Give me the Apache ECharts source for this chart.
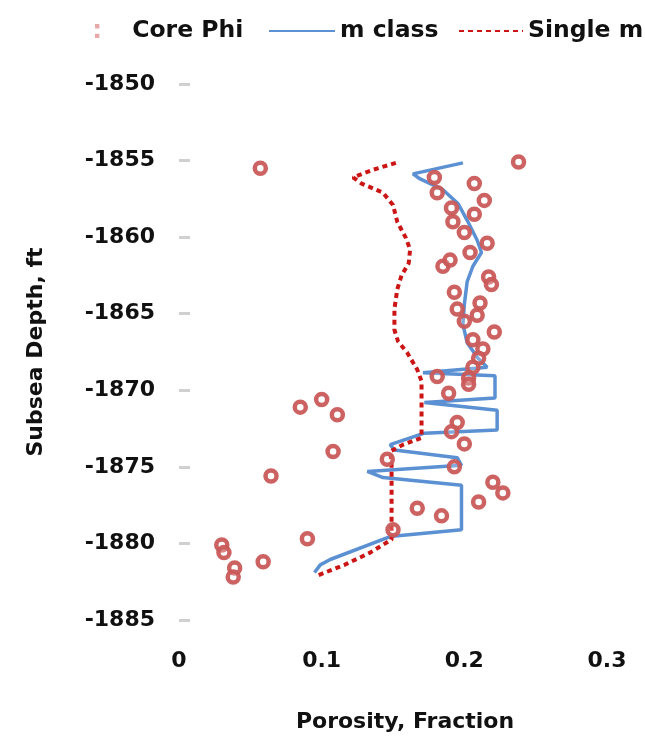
<!DOCTYPE html>
<html>
<head>
<meta charset="utf-8">
<script src="https://cdn.jsdelivr.net/npm/echarts@6/dist/echarts.min.js"></script>
<style>
html,body{margin:0;padding:0;background:#fff;}
#chart{width:645px;height:745px;}
</style>
</head>
<body>
<div id="chart"></div>
<script>
// Core Phi samples
const corePhiPhi = [0.057,0.238,0.179,0.181,0.207,0.214,0.191,0.207,0.192,0.200,0.216,0.204,0.185,0.190,0.217,0.219,0.193,0.211,0.195,0.209,0.200,0.221,0.206,0.213,0.210,0.206,0.181,0.203,0.203,0.189,0.195,0.191,0.200,0.146,0.193,0.220,0.227,0.210,0.167,0.184,0.150,0.085,0.100,0.111,0.108,0.0645,0.090,0.030,0.0315,0.059,0.039,0.038];
const corePhiDepth = [-1855.5,-1855.1,-1856.1,-1857.1,-1856.5,-1857.6,-1858.1,-1858.5,-1859.0,-1859.7,-1860.4,-1861.0,-1861.9,-1861.5,-1862.6,-1863.1,-1863.6,-1864.3,-1864.7,-1865.1,-1865.5,-1866.2,-1866.7,-1867.3,-1867.9,-1868.5,-1869.1,-1869.2,-1869.6,-1870.2,-1872.1,-1872.7,-1873.5,-1874.5,-1875.0,-1876.0,-1876.7,-1877.3,-1877.7,-1878.2,-1879.1,-1871.1,-1870.6,-1871.6,-1874.0,-1875.6,-1879.7,-1880.1,-1880.6,-1881.2,-1881.6,-1882.2];

// m class curve
const mClassPhi = [0.199,0.164,0.169,0.185,0.1955,0.202,0.209,0.212,0.206,0.202,0.200,0.199,0.202,0.2095,0.216,0.171,0.2215,0.2215,0.172,0.223,0.223,0.172,0.148,0.151,0.195,0.198,0.132,0.143,0.198,0.198,0.148,0.106,0.099,0.095];
const mClassDepth = [-1855.15,-1855.87,-1856.2,-1856.9,-1857.8,-1858.9,-1860.2,-1861.0,-1861.9,-1862.9,-1864.4,-1865.7,-1866.9,-1867.9,-1868.5,-1868.85,-1869.05,-1870.5,-1870.8,-1871.3,-1872.6,-1872.8,-1873.55,-1873.9,-1874.4,-1874.9,-1875.3,-1875.7,-1876.2,-1879.1,-1879.55,-1881.05,-1881.4,-1881.9];

// Single m curve
const singleMPhi = [0.152,0.136,0.122,0.128,0.143,0.150,0.153,0.159,0.162,0.161,0.156,0.153,0.151,0.151,0.1535,0.160,0.167,0.170,0.170,0.157,0.148,0.149,0.149,0.134,0.116,0.097];
const singleMDepth = [-1855.15,-1855.6,-1856.1,-1856.5,-1857.1,-1857.9,-1859.0,-1860.05,-1860.8,-1861.7,-1862.5,-1863.4,-1864.7,-1866.05,-1866.8,-1867.55,-1868.65,-1869.4,-1873.1,-1873.55,-1874.0,-1874.7,-1879.75,-1880.6,-1881.4,-1882.1];

const seriesNames = ['Core Phi','m class','Single m'];
const xTicks = [0, 0.1, 0.2, 0.3];
const yTicks = [-1850,-1855,-1860,-1865,-1870,-1875,-1880,-1885];

const zip = (a,b) => a.map((v,i)=>[v,b[i]]);
const FONT = 'DejaVu Sans';
const legendText = {fontFamily:FONT, fontWeight:'bold', fontSize:23.5, color:'#111'};

const chart = echarts.init(document.getElementById('chart'), null, {renderer:'canvas'});
chart.setOption({
  animation:false,
  backgroundColor:'#fff',
  legend:[
    {top:19, left:95, padding:0, itemWidth:60, itemHeight:14, textStyle:legendText,
     data:[{name:seriesNames[0], icon:'path://M0,0h1v1h-1z M0,2.2h1v1h-1z', itemStyle:{color:'#e6a3a3', borderWidth:0}}]},
    {top:19, left:268, padding:0, itemWidth:66, itemHeight:14, textStyle:legendText,
     data:[{name:seriesNames[1], itemStyle:{opacity:0}}]},
    {top:19, left:458, padding:0, itemWidth:64, itemHeight:14, textStyle:legendText,
     data:[{name:seriesNames[2], itemStyle:{opacity:0}}]}
  ],
  grid:{left:179, right:38, top:84, bottom:125, containLabel:false},
  xAxis:{
    type:'value', min:xTicks[0], max:xTicks[xTicks.length-1], interval:0.1,
    name:'Porosity, Fraction', nameLocation:'middle', nameGap:91,
    nameTextStyle:{fontFamily:FONT, fontWeight:'bold', fontSize:22, color:'#111', padding:[0,0,0,24]},
    axisLine:{show:false}, axisTick:{show:false}, splitLine:{show:false},
    axisLabel:{margin:30, fontFamily:FONT, fontWeight:'bold', fontSize:22, color:'#111',
      formatter:v=>String(Math.round(v*10)/10)}
  },
  yAxis:{
    type:'value', min:yTicks[yTicks.length-1], max:yTicks[0], interval:5,
    name:'Subsea Depth, ft', nameLocation:'middle', nameGap:132,
    nameTextStyle:{fontFamily:FONT, fontWeight:'bold', fontSize:22, color:'#111'},
    axisLine:{show:false},
    axisTick:{show:true, inside:true, length:11, lineStyle:{color:'#d0d0d0', width:3}},
    splitLine:{show:false},
    axisLabel:{margin:24, fontFamily:FONT, fontWeight:'bold', fontSize:22, color:'#111',
      formatter:v=>String(v)}
  },
  series:[
    {
      name:seriesNames[0], type:'scatter', symbol:'circle', symbolSize:11,
      itemStyle:{color:'rgba(255,255,255,0.25)', borderColor:'#c95a58', borderWidth:4.5, opacity:0.95},
      data:zip(corePhiPhi, corePhiDepth), z:3
    },
    {
      name:seriesNames[1], type:'line', showSymbol:false,
      lineStyle:{color:'#5b90d3', width:3.5},
      itemStyle:{color:'#5b90d3'},
      data:zip(mClassPhi, mClassDepth), z:2
    },
    {
      name:seriesNames[2], type:'line', showSymbol:false,
      lineStyle:{color:'#cc1515', width:4, type:[5,4]},
      itemStyle:{color:'#cc1515'},
      data:zip(singleMPhi, singleMDepth), z:2
    }
  ]
});
</script>
</body>
</html>
